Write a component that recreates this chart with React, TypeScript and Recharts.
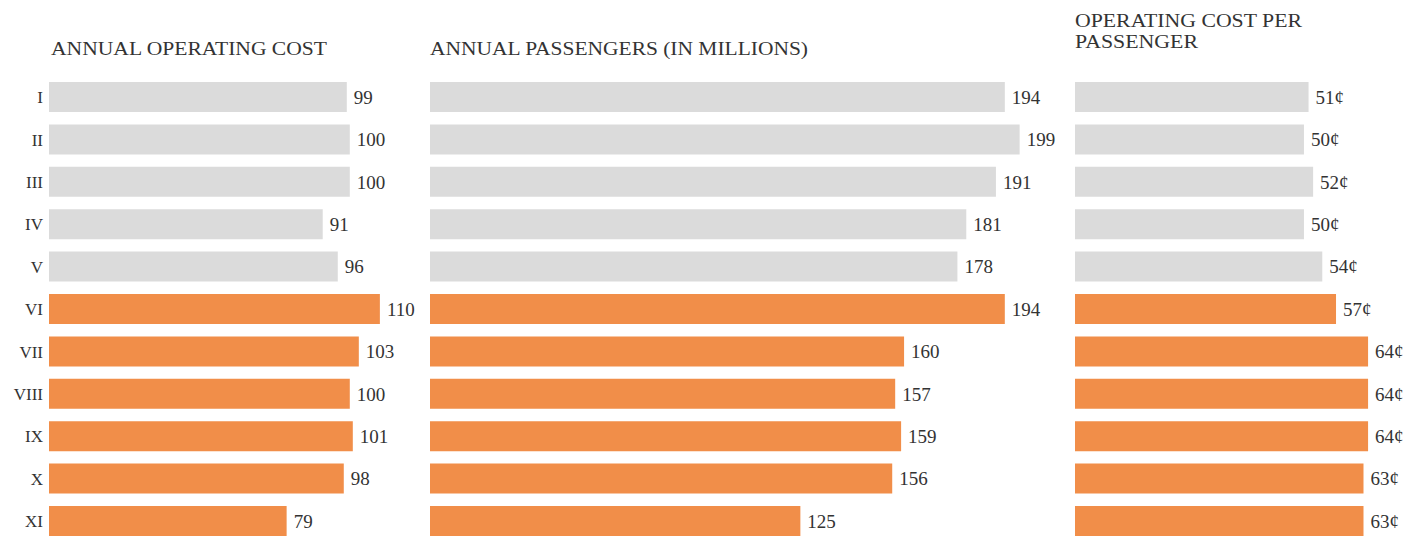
import React from 'react';
import { BarChart, Bar, XAxis, YAxis, Cell, LabelList } from 'recharts';

const categories = ['I', 'II', 'III', 'IV', 'V', 'VI', 'VII', 'VIII', 'IX', 'X', 'XI'];
const operatingCost = [99, 100, 100, 91, 96, 110, 103, 100, 101, 98, 79];
const passengers = [194, 199, 191, 181, 178, 194, 160, 157, 159, 156, 125];
const costPerPassenger = [51, 50, 52, 50, 54, 57, 64, 64, 64, 63, 63];
const period = ['early', 'early', 'early', 'early', 'early', 'late', 'late', 'late', 'late', 'late', 'late'];

const COLORS: Record<string, string> = { early: '#dbdbdb', late: '#f18e49' };
const FONT = '"Liberation Serif", "Times New Roman", serif';
const TEXT = '#333333';

const data = categories.map((c, i) => ({
  cat: c,
  cost: operatingCost[i],
  pax: passengers[i],
  cpp: costPerPassenger[i],
  grp: period[i],
}));

const CHART_H = 545;
const MARGIN = { top: 76, bottom: 2.6, left: 0, right: 0 };

function Panel({ dataKey, width, domainMax, showAxis, suffix, yWidth }: any) {
  return (
    <BarChart
      layout="vertical"
      width={width}
      height={CHART_H}
      data={data}
      margin={MARGIN}
      barSize={30}
    >
      <XAxis type="number" hide domain={[0, domainMax]} allowDataOverflow />
      <YAxis
        type="category"
        dataKey="cat"
        hide={!showAxis}
        width={yWidth}
        axisLine={false}
        tickLine={false}
        tickSize={0}
        tickMargin={6}
        tick={{ fill: TEXT, fontSize: 17, fontFamily: FONT }}
      />
      <Bar dataKey={dataKey} isAnimationActive={false}>
        {data.map((d, i) => (
          <Cell key={i} fill={COLORS[d.grp]} />
        ))}
        <LabelList
          dataKey={dataKey}
          position="right"
          offset={7}
          formatter={(v: any) => `${v}${suffix || ''}`}
          style={{ fill: TEXT, fontSize: 19, fontFamily: FONT }}
        />
      </Bar>
    </BarChart>
  );
}

export default function App() {
  return (
    <div
      style={{
        position: 'absolute',
        left: 0,
        top: 0,
        width: 1407,
        height: 540,
        overflow: 'hidden',
        background: '#ffffff',
      }}
    >
      <div style={{ position: 'absolute', left: 0, top: 0 }}>
        <Panel dataKey="cost" width={425} domainMax={125} showAxis yWidth={49} />
      </div>
      <div style={{ position: 'absolute', left: 430, top: 0 }}>
        <Panel dataKey="pax" width={640} domainMax={216} showAxis={false} yWidth={0} />
      </div>
      <div style={{ position: 'absolute', left: 1075, top: 0 }}>
        <Panel dataKey="cpp" width={332} domainMax={72.5} showAxis={false} yWidth={0} suffix="¢" />
      </div>
      <svg
        width={1407}
        height={540}
        style={{ position: 'absolute', left: 0, top: 0, pointerEvents: 'none' }}
      >
        <g fill={TEXT} fontFamily={FONT} fontSize={18}>
          <text x={51} y={55} textLength={276} lengthAdjust="spacingAndGlyphs">ANNUAL OPERATING COST</text>
          <text x={430} y={55} textLength={378} lengthAdjust="spacingAndGlyphs">ANNUAL PASSENGERS (IN MILLIONS)</text>
          <text x={1075} y={27} textLength={227} lengthAdjust="spacingAndGlyphs">OPERATING COST PER</text>
          <text x={1075} y={48} textLength={123} lengthAdjust="spacingAndGlyphs">PASSENGER</text>
        </g>
      </svg>
    </div>
  );
}
